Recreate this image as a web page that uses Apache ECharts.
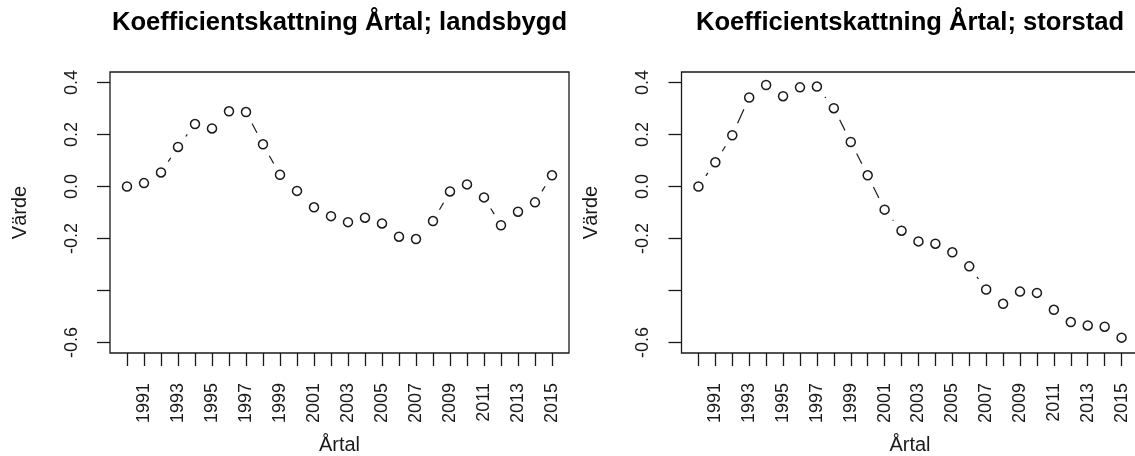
<!DOCTYPE html>
<html>
<head>
<meta charset="utf-8">
<script src="https://cdn.jsdelivr.net/npm/echarts@6/dist/echarts.min.js"></script>
<style>
  html, body { margin: 0; padding: 0; background: #fff; }
  #chart { width: 1135px; height: 456px; }
</style>
</head>
<body>
<div id="chart"></div>
<script>
// Year-effect coefficient estimates, 1990–2015
const years = [1990, 1991, 1992, 1993, 1994, 1995, 1996, 1997, 1998, 1999, 2000, 2001, 2002,
               2003, 2004, 2005, 2006, 2007, 2008, 2009, 2010, 2011, 2012, 2013, 2014, 2015];
const landsbygd = [0.000, 0.013, 0.054, 0.152, 0.240, 0.223, 0.289, 0.286, 0.162, 0.045, -0.017, -0.080, -0.114,
                   -0.137, -0.120, -0.142, -0.193, -0.202, -0.133, -0.019, 0.008, -0.042, -0.149, -0.097, -0.061, 0.043];
const storstad = [0.000, 0.093, 0.197, 0.342, 0.390, 0.347, 0.381, 0.384, 0.301, 0.171, 0.043, -0.089, -0.170,
                  -0.211, -0.220, -0.253, -0.307, -0.396, -0.451, -0.404, -0.409, -0.474, -0.521, -0.534, -0.539, -0.581];

const titles = ['Koefficientskattning Årtal; landsbygd', 'Koefficientskattning Årtal; storstad'];
const yTicks = [-0.6, -0.4, -0.2, 0.0, 0.2, 0.4];
const yLabels = [-0.6, -0.2, 0.0, 0.2, 0.4];
const xLabels = years.filter(y => y % 2 === 1);

const FONT = '"Liberation Sans", Arial, Helvetica, sans-serif';
const INK = '#1a1a1a';

// Plot boxes (pixels)
const boxes = [
  { left: 110, width: 459 },
  { left: 681.5, width: 457 }
];
const boxTop = 72, boxHeight = 281;

const chart = echarts.init(document.getElementById('chart'), null, { renderer: 'canvas' });

const grid = boxes.map(b => ({
  left: b.left, width: b.width, top: boxTop, height: boxHeight,
  show: true, borderColor: INK, borderWidth: 1.3, backgroundColor: 'transparent',
  containLabel: false, outerBoundsMode: 'none'
}));

const xAxis = boxes.map((b, i) => ({
  type: 'value', gridIndex: i, min: 1989, max: 2016, position: 'bottom',
  name: 'Årtal', nameLocation: 'middle', nameGap: 82,
  nameTextStyle: { fontFamily: FONT, fontSize: 20, color: INK },
  axisLine: { show: false, onZero: false },
  splitLine: { show: false },
  axisTick: { show: true, inside: false, length: 13, customValues: years,
              lineStyle: { color: INK, width: 1.3 } },
  axisLabel: { show: true, customValues: xLabels, rotate: 90, margin: 30,
               fontFamily: FONT, fontSize: 18, color: INK,
               formatter: v => String(v) }
}));

const yAxis = boxes.map((b, i) => ({
  type: 'value', gridIndex: i, min: -0.64, max: 0.44, position: 'left',
  name: 'Värde', nameLocation: 'middle', nameGap: 80, nameRotate: 90,
  nameTextStyle: { fontFamily: FONT, fontSize: 20, color: INK },
  axisLine: { show: false, onZero: false },
  splitLine: { show: false },
  axisTick: { show: true, inside: false, length: 13, customValues: yTicks,
              lineStyle: { color: INK, width: 1.3 } },
  axisLabel: { show: true, customValues: yLabels, rotate: 90, margin: 29,
               fontFamily: FONT, fontSize: 18, color: INK,
               formatter: v => v.toFixed(1) }
}));

// Dashed connectors between consecutive points, leaving a gap around each marker
const GAP = 13;
function segments(vals) {
  const out = [];
  for (let i = 0; i < years.length - 1; i++) {
    out.push([years[i], vals[i], years[i + 1], vals[i + 1]]);
  }
  return out;
}
function renderConnector(params, api) {
  const p0 = api.coord([api.value(0), api.value(1)]);
  const p1 = api.coord([api.value(2), api.value(3)]);
  const dx = p1[0] - p0[0], dy = p1[1] - p0[1];
  const len = Math.sqrt(dx * dx + dy * dy);
  if (len <= 2 * GAP) return null;
  const ux = dx / len, uy = dy / len;
  return {
    type: 'line',
    shape: { x1: p0[0] + ux * GAP, y1: p0[1] + uy * GAP, x2: p1[0] - ux * GAP, y2: p1[1] - uy * GAP },
    style: { stroke: INK, lineWidth: 1.2, lineDash: [16, 16], fill: null }
  };
}

const seriesData = [landsbygd, storstad];
const series = [];
seriesData.forEach((vals, i) => {
  series.push({
    type: 'custom', xAxisIndex: i, yAxisIndex: i,
    renderItem: renderConnector,
    data: segments(vals),
    silent: true, z: 2
  });
  series.push({
    type: 'scatter', xAxisIndex: i, yAxisIndex: i,
    data: years.map((y, k) => [y, vals[k]]),
    symbol: 'circle', symbolSize: 9,
    itemStyle: { color: '#fff', borderColor: INK, borderWidth: 1.5, opacity: 1 },
    silent: true, z: 3
  });
});

const title = boxes.map((b, i) => ({
  text: titles[i],
  left: b.left + b.width / 2, top: 10, textAlign: 'center', padding: 0,
  textStyle: { fontFamily: FONT, fontSize: 25.6, fontWeight: 'bold', color: '#000' }
}));

chart.setOption({
  animation: false,
  backgroundColor: '#fff',
  title, grid, xAxis, yAxis, series
});
</script>
</body>
</html>
